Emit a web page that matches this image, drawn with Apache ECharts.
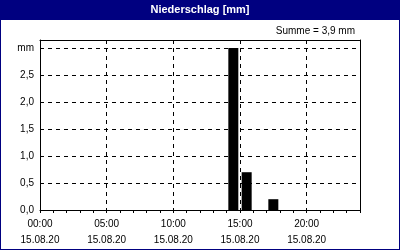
<!DOCTYPE html>
<html>
<head>
<meta charset="utf-8">
<script src="https://cdn.jsdelivr.net/npm/echarts@6/dist/echarts.min.js"></script>
<style>
html,body{margin:0;padding:0;background:#fff;}
#c{width:400px;height:250px;}
</style>
</head>
<body>
<div id="c"></div>
<script>
// Data
var hours = ['00','01','02','03','04','05','06','07','08','09','10','11','12','13','14','15','16','17','18','19','20','21','22','23'];
var rainMm = [0,0,0,0,0,0,0,0,0,0,0,0,0,0,3.0,0.7,0,0.2,0,0,0,0,0,0];
var timeTicks = [0,5,10,15,20];
var timeLabels = ['00:00','05:00','10:00','15:00','20:00'];
var dateLabels = ['15.08.20','15.08.20','15.08.20','15.08.20','15.08.20'];
var titleText = 'Niederschlag [mm]';
var sumText = 'Summe = 3,9 mm';
var yUnitLabel = 'mm';

var FONT = 'Liberation Sans';
var NAVY = '#000080';
var dash = {color:'#000', width:1, type:[4,4]};

var chart = echarts.init(document.getElementById('c'), null, {renderer:'canvas'});
chart.setOption({
  animation:false,
  backgroundColor:'#fff',
  grid:{left:40, right:40, top:40, bottom:40},
  graphic:[
    {type:'rect', shape:{x:0,y:0,width:400,height:20}, style:{fill:NAVY}, z:10},
    {type:'rect', shape:{x:0,y:0,width:400,height:250}, style:{fill:null, stroke:NAVY, lineWidth:2}, z:10},
    {type:'text', x:200, y:10, z:11, style:{text:titleText, fill:'#fff', font:'bold 11px "'+FONT+'"', align:'center', verticalAlign:'middle'}},
    {type:'text', x:355, y:31, z:11, style:{text:sumText, fill:'#000', font:'10px "'+FONT+'"', align:'right', verticalAlign:'middle'}}
  ],
  xAxis:[
    {type:'value', min:0, max:24, interval:5, position:'bottom',
     axisLine:{show:true, onZero:false, lineStyle:{color:'#000', width:1}},
     axisTick:{show:false},
     splitLine:{show:true, lineStyle:dash},
     axisLabel:{show:true, margin:6, color:'#000', fontFamily:FONT, fontSize:10, lineHeight:16,
       showMaxLabel:false,
       formatter:function(v){var i=timeTicks.indexOf(v); return i<0?'':timeLabels[i]+'\n'+dateLabels[i];}}},
    {type:'value', min:0, max:24, interval:1, position:'bottom',
     axisLine:{show:false, onZero:false}, axisTick:{show:true, length:3, lineStyle:{color:'#000'}},
     axisLabel:{show:false}, splitLine:{show:false}},
    {type:'value', min:0, max:24, interval:5, position:'top',
     axisLine:{show:true, onZero:false, lineStyle:{color:'#000', width:1}}, axisTick:{show:false},
     axisLabel:{show:false}, splitLine:{show:false}},
    {type:'category', data:hours, boundaryGap:true, show:false, position:'bottom'}
  ],
  yAxis:[
    {type:'value', min:0, max:3.15, interval:0.5, position:'left',
     axisLine:{show:true, onZero:false, lineStyle:{color:'#000', width:1}},
     axisTick:{show:false},
     splitLine:{show:true, lineStyle:dash},
     axisLabel:{show:true, margin:6, color:'#000', fontFamily:FONT, fontSize:10,
       formatter:function(v){ if(Math.abs(v-3)<1e-9) return yUnitLabel; if(v>3) return ''; return v.toFixed(1).replace('.',','); }}},
    {type:'value', min:0, max:3.15, interval:0.5, position:'right',
     axisLine:{show:true, onZero:false, lineStyle:{color:'#000', width:1}},
     axisTick:{show:false}, axisLabel:{show:false}, splitLine:{show:false}}
  ],
  series:[
    {type:'bar', xAxisIndex:3, yAxisIndex:0, data:rainMm, barWidth:10,
     itemStyle:{color:'#000'}, silent:true}
  ]
});
</script>
</body>
</html>
